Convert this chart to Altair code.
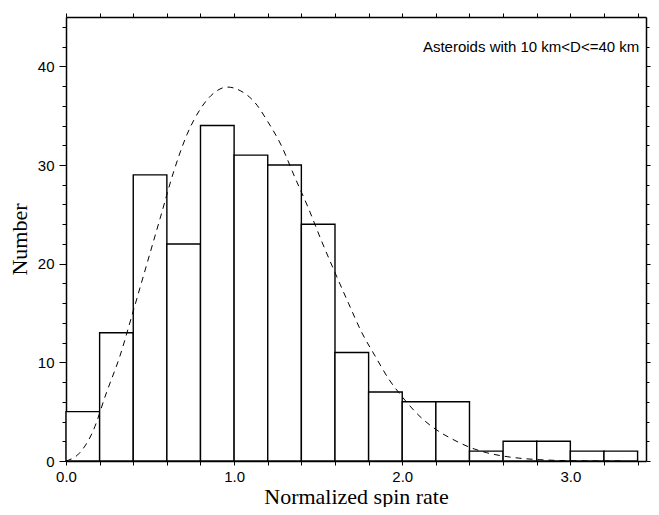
import altair as alt
import pandas as pd

# Histogram bins (normalized spin rate) and counts
bin_start = [0.0, 0.2, 0.4, 0.6, 0.8, 1.0, 1.2, 1.4, 1.6, 1.8, 2.0, 2.2, 2.4, 2.6, 2.8, 3.0, 3.2]
bin_end = [0.2, 0.4, 0.6, 0.8, 1.0, 1.2, 1.4, 1.6, 1.8, 2.0, 2.2, 2.4, 2.6, 2.8, 3.0, 3.2, 3.4]
counts = [5, 13, 29, 22, 34, 31, 30, 24, 11, 7, 6, 6, 1, 2, 2, 1, 1]

# Dashed model curve
curve_x = [0.0, 0.08, 0.16, 0.24, 0.32, 0.40, 0.48, 0.56, 0.64, 0.72, 0.80, 0.88, 0.96,
           1.04, 1.12, 1.20, 1.28, 1.36, 1.44, 1.52, 1.60, 1.68, 1.76, 1.84, 1.92, 2.00,
           2.10, 2.20, 2.30, 2.40, 2.50, 2.60, 2.70, 2.80, 2.90, 3.00, 3.10, 3.20, 3.30]
curve_y = [0.0, 0.8, 3.0, 6.9, 10.6, 15.2, 19.9, 24.6, 29.3, 33.1, 35.7, 37.3, 37.9,
           37.5, 36.4, 34.4, 32.0, 28.8, 25.7, 22.3, 19.1, 16.0, 13.0, 10.6, 8.3, 6.5,
           4.6, 3.2, 2.2, 1.4, 0.85, 0.5, 0.28, 0.15, 0.07, 0.03, 0.01, 0.0, 0.0]

x_ticks = [round(i * 0.2, 1) for i in range(18)]
y_ticks = list(range(0, 46, 2))

note_text = ["Asteroids with 10 km<D<=40 km"]
note_x = [3.41]
note_y = [42.0]

bars_df = pd.DataFrame({"start": bin_start, "end": bin_end, "count": counts})
curve_df = pd.DataFrame({"x": curve_x, "y": curve_y})
note_df = pd.DataFrame({"x": note_x, "y": note_y, "t": note_text})

xscale = alt.Scale(domain=[0, 3.45], nice=False, zero=False)
yscale = alt.Scale(domain=[0, 45], nice=False)

major_tick = {"condition": {"test": "datum.value % 10 === 0", "value": 7}, "value": 4}
right_tick = {"condition": {"test": "datum.value % 10 === 0", "value": 4}, "value": 3}

x_axis = alt.Axis(
    values=x_ticks,
    labelExpr="datum.value % 1 === 0 ? format(datum.value, '.1f') : ''",
    title="Normalized spin rate",
    titleFont="Liberation Serif", titleFontSize=22, titleFontWeight="normal",
    titleColor="black", titlePadding=2,
    labelFont="Liberation Sans", labelFontSize=15, labelColor="black",
    labelPadding=4, tickSize=4, tickColor="black", domainColor="black",
    domainWidth=1.5, tickWidth=1, grid=False, labelFlush=False,
)
y_axis = alt.Axis(
    values=y_ticks,
    labelExpr="datum.value % 10 === 0 ? datum.value : ''",
    title="Number",
    titleFont="Liberation Serif", titleFontSize=22, titleFontWeight="normal",
    titleColor="black", titlePadding=6,
    labelFont="Liberation Sans", labelFontSize=15, labelColor="black",
    labelPadding=5, tickSize=major_tick, tickColor="black", domainColor="black",
    domainWidth=1.5, tickWidth=1, grid=False,
)

bars = alt.Chart(bars_df).mark_rect(
    fill="white", stroke="black", strokeWidth=1.4
).encode(
    x=alt.X("start:Q", scale=xscale, axis=x_axis),
    x2="end:Q",
    y=alt.Y("count:Q", scale=yscale, axis=y_axis),
    y2=alt.datum(0),
)

curve = alt.Chart(curve_df).mark_line(
    color="black", strokeDash=[6, 5], strokeWidth=1, interpolate="monotone"
).encode(
    x=alt.X("x:Q", scale=xscale, axis=alt.Axis(orient="top", values=x_ticks, labels=False,
                                                title=None, tickSize=4, tickColor="black",
                                                domainColor="black", domainWidth=1.5, grid=False)),
    y=alt.Y("y:Q", scale=yscale, axis=alt.Axis(orient="right", values=y_ticks, labels=False,
                                                title=None, tickSize=right_tick, tickColor="black",
                                                domainColor="black", domainWidth=1.5, grid=False)),
)

note = alt.Chart(note_df).mark_text(
    align="right", baseline="middle", font="Liberation Sans", fontSize=15, color="black"
).encode(
    x=alt.X("x:Q", scale=xscale, axis=None),
    y=alt.Y("y:Q", scale=yscale, axis=None),
    text="t:N",
)

chart = alt.layer(bars, curve, note).resolve_axis(
    x="independent", y="independent"
).properties(
    width=643, height=499,
    autosize=alt.AutoSizeParams(type="fit", contains="padding"),
    padding={"left": 0, "top": 4, "right": 0, "bottom": 0},
).configure_view(stroke="black", strokeWidth=1.5).configure(background="white")

chart.save("out.html", embed_options={"renderer": "svg", "actions": False})
